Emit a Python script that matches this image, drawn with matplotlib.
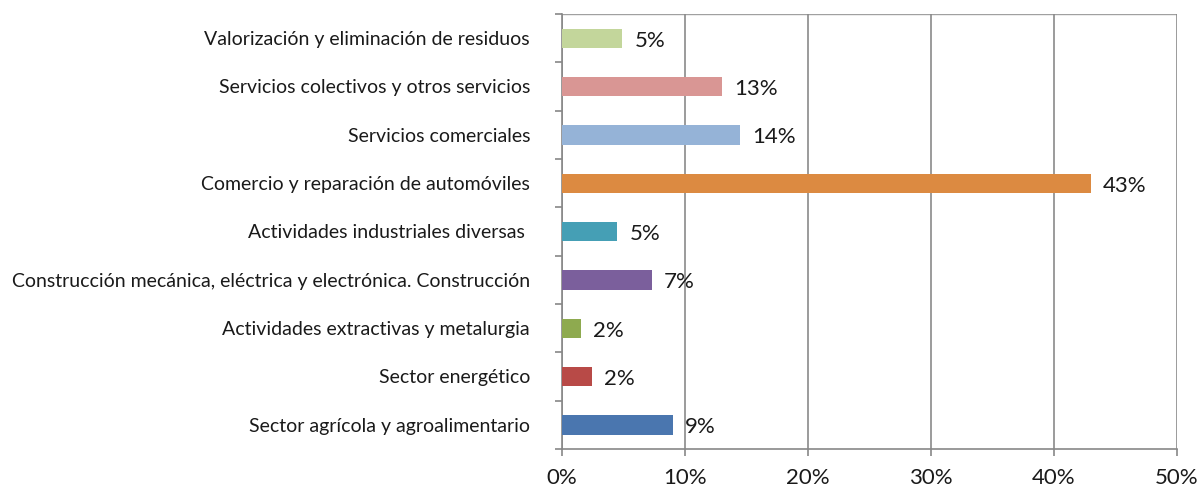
import matplotlib
matplotlib.use("Agg")
import matplotlib.pyplot as plt
from matplotlib.ticker import FixedLocator

categories = [
    "Sector agrícola y agroalimentario",
    "Sector energético",
    "Actividades extractivas y metalurgia",
    "Construcción mecánica, eléctrica y electrónica. Construcción",
    "Actividades industriales diversas ",
    "Comercio y reparación de automóviles",
    "Servicios comerciales",
    "Servicios colectivos y otros servicios",
    "Valorización y eliminación de residuos",
]
values = [9.0, 2.45, 1.55, 7.3, 4.5, 43.0, 14.5, 13.0, 4.9]
labels = ["9%", "2%", "2%", "7%", "5%", "43%", "14%", "13%", "5%"]
colors = ["#4A76AF", "#B84A47", "#8EAA4F", "#7B5F9C", "#459FB5",
          "#DC8A41", "#95B3D7", "#D99694", "#C3D69B"]
xticks = [0, 10, 20, 30, 40, 50]
xticklabels = ["0%", "10%", "20%", "30%", "40%", "50%"]

plt.rcParams['font.family'] = ['Lato', 'DejaVu Sans']

fig = plt.figure(figsize=(11.99, 4.88), dpi=100)
ax = fig.add_axes([562/1199, 39/488, (1177-562)/1199, (449-14)/488])

y = list(range(len(categories)))
ax.barh(y, values, height=0.4, color=colors, zorder=3)
for yi, v, lab in zip(y, values, labels):
    ax.text(v + 1.0, yi - 0.05, lab, va='center', ha='left', fontsize=16, color='#1a1a1a', zorder=4)

ax.set_xlim(0, 50)
ax.set_ylim(-0.5, len(categories) - 0.5)
ax.set_xticks(xticks)
ax.set_xticklabels(xticklabels, fontsize=16, color='#1a1a1a')
ax.set_yticks(y)
ax.set_yticklabels(categories, fontsize=14, color='#1a1a1a')
ax.tick_params(axis='y', length=0, pad=23)
ax.tick_params(axis='x', length=5, color='#888888', width=1.2, pad=9)
ax.yaxis.set_minor_locator(FixedLocator([i - 0.5 for i in range(len(categories) + 1)]))
ax.tick_params(axis='y', which='minor', length=5, color='#888888', width=1.2)

ax.grid(axis='x', color='#8a8a8a', linewidth=1.2, zorder=0)
for s in ['top', 'right']:
    ax.spines[s].set_visible(False)
ax.axhline(len(categories) - 0.5, color='#a0a0a0', linewidth=1.0, zorder=1)
for s in ['left', 'bottom']:
    ax.spines[s].set_color('#888888')
    ax.spines[s].set_linewidth(1.2)

fig.savefig("out.png", dpi=100)
